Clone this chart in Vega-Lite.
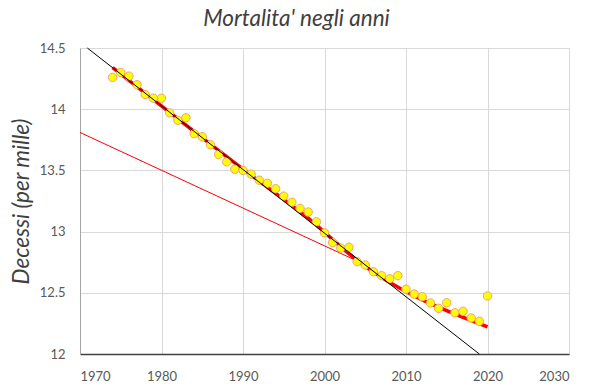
{
  "$schema": "https://vega.github.io/schema/vega-lite/v6.json",
  "autosize": {"type": "none"},
  "width": 489,
  "height": 306,
  "padding": {"left": 80, "top": 48, "right": 24, "bottom": 33},
  "background": "white",
  "title": {
    "text": "Mortalita' negli anni",
    "font": "Lato",
    "fontStyle": "italic",
    "fontWeight": "normal",
    "fontSize": 22.5,
    "color": "#404040",
    "anchor": "middle",
    "dx": -28,
    "offset": 12
  },
  "datasets": {
    "pts": [
      {"year": 1974, "value": 14.26}, {"year": 1975, "value": 14.30}, {"year": 1976, "value": 14.27},
      {"year": 1977, "value": 14.20}, {"year": 1978, "value": 14.12}, {"year": 1979, "value": 14.09},
      {"year": 1980, "value": 14.09}, {"year": 1981, "value": 13.97}, {"year": 1982, "value": 13.91},
      {"year": 1983, "value": 13.93}, {"year": 1984, "value": 13.80}, {"year": 1985, "value": 13.775},
      {"year": 1986, "value": 13.71}, {"year": 1987, "value": 13.63}, {"year": 1988, "value": 13.57},
      {"year": 1989, "value": 13.51}, {"year": 1990, "value": 13.50}, {"year": 1991, "value": 13.47},
      {"year": 1992, "value": 13.42}, {"year": 1993, "value": 13.395}, {"year": 1994, "value": 13.35},
      {"year": 1995, "value": 13.29}, {"year": 1996, "value": 13.24}, {"year": 1997, "value": 13.19},
      {"year": 1998, "value": 13.16}, {"year": 1999, "value": 13.08}, {"year": 2000, "value": 12.99},
      {"year": 2001, "value": 12.91}, {"year": 2002, "value": 12.866}, {"year": 2003, "value": 12.872},
      {"year": 2004, "value": 12.754}, {"year": 2005, "value": 12.727}, {"year": 2006, "value": 12.672},
      {"year": 2007, "value": 12.64}, {"year": 2008, "value": 12.615}, {"year": 2009, "value": 12.64},
      {"year": 2010, "value": 12.529}, {"year": 2011, "value": 12.49}, {"year": 2012, "value": 12.468},
      {"year": 2013, "value": 12.417}, {"year": 2014, "value": 12.373}, {"year": 2015, "value": 12.419},
      {"year": 2016, "value": 12.337}, {"year": 2017, "value": 12.349}, {"year": 2018, "value": 12.294},
      {"year": 2019, "value": 12.267}, {"year": 2020, "value": 12.474}
    ],
    "thickRed": [
      {"year": 1974, "value": 14.34}, {"year": 1990, "value": 13.51}, {"year": 1998, "value": 13.11},
      {"year": 2004, "value": 12.765}, {"year": 2020, "value": 12.222}
    ],
    "thinRed": [
      {"year": 1970, "value": 13.81}, {"year": 2004, "value": 12.76}
    ],
    "black": [
      {"year": 1970.9, "value": 14.5}, {"year": 2019, "value": 12.0}
    ]
  },
  "encoding": {
    "x": {
      "field": "year", "type": "quantitative",
      "scale": {"domain": [1970, 2030], "nice": false, "zero": false},
      "axis": {
        "values": [1970, 1980, 1990, 2000, 2010, 2020, 2030],
        "format": "d", "title": null,
        "ticks": false, "labelPadding": 16,
        "labelFont": "Lato", "labelFontSize": 13, "labelColor": "#595959",
        "domainColor": "#404040", "domainWidth": 1.5,
        "gridColor": "#d9d9d9", "gridWidth": 1
      }
    },
    "y": {
      "field": "value", "type": "quantitative",
      "scale": {"domain": [12, 14.5], "nice": false, "zero": false},
      "axis": {
        "values": [12, 12.5, 13, 13.5, 14, 14.5],
        "format": ".1~f",
        "title": "Decessi (per mille)",
        "titleFont": "Lato", "titleFontStyle": "italic", "titleFontWeight": "normal",
        "titleFontSize": 22.5, "titleColor": "#404040", "titlePadding": 6,
        "ticks": false, "labelPadding": 15,
        "labelFont": "Lato", "labelFontSize": 13, "labelColor": "#595959",
        "domainColor": "#a6a6a6", "domainWidth": 1,
        "gridColor": "#d9d9d9", "gridWidth": 1
      }
    }
  },
  "layer": [
    {
      "data": {"name": "thinRed"},
      "mark": {"type": "line", "color": "#ff0000", "strokeWidth": 1},
      "encoding": {}
    },
    {
      "data": {"name": "thickRed"},
      "mark": {"type": "line", "color": "#ff0000", "strokeWidth": 3.5, "interpolate": "monotone"},
      "encoding": {}
    },
    {
      "data": {"name": "pts"},
      "mark": {"type": "point", "shape": "circle", "filled": true, "fill": "#ffff00", "stroke": "#f4a070", "strokeWidth": 1, "size": 70, "opacity": 1}
    },
    {
      "data": {"name": "black"},
      "mark": {"type": "line", "color": "#000000", "strokeWidth": 1},
      "encoding": {}
    }
  ],
  "config": {"view": {"stroke": null}}
}
